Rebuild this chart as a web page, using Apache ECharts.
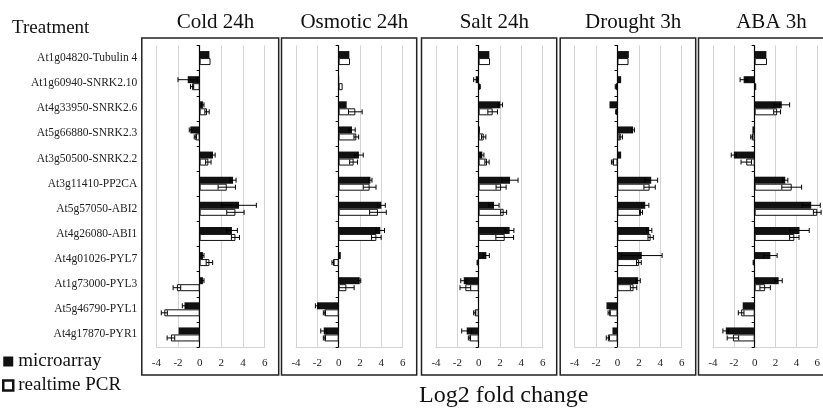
<!DOCTYPE html>
<html><head><meta charset="utf-8">
<script src="https://cdn.jsdelivr.net/npm/echarts@6/dist/echarts.min.js"></script>
<style>html,body{margin:0;padding:0;background:#fff}#c{width:823px;height:408px}</style>
</head><body><div id="c"></div>
<script>
var genes = ['At1g04820-Tubulin 4','At1g60940-SNRK2.10','At4g33950-SNRK2.6','At5g66880-SNRK2.3','At3g50500-SNRK2.2','At3g11410-PP2CA','At5g57050-ABI2','At4g26080-ABI1','At4g01026-PYL7','At1g73000-PYL3','At5g46790-PYL1','At4g17870-PYR1'];
var panelTitles = ['Cold 24h','Osmotic 24h','Salt 24h','Drought 3h','ABA 3h'];
var xTicks = [-4,-2,0,2,4,6];

var coldMicro    = [0.9,-1.1,0.3,-0.86,1.23,3.08,3.63,2.98,0.3,0.3,-1.4,-1.94];
var coldMicroErr = [0,0.9,0.1,0.1,0.2,0.28,1.6,0.5,0.1,0.1,0.2,0];
var coldPcr      = [1.0,-0.7,0.68,-0.4,0.8,2.5,3.3,3.3,0.9,-2.1,-3.26,-2.65];
var coldPcrErr   = [0,0.15,0.2,0.1,0.25,0.8,0.8,0.37,0.3,0.35,0.28,0.35];

var osmMicro    = [1.0,0.05,0.75,1.25,1.9,2.97,4.0,3.9,0.2,1.97,-2.03,-1.4];
var osmMicroErr = [0,0,0,0.3,0.4,0.15,0.37,0.4,0,0.1,0.15,0.28];
var osmPcr      = [1.06,0.37,1.56,1.65,1.4,2.9,3.68,3.53,-0.53,0.72,-1.34,-1.34];
var osmPcrErr   = [0,0,0.64,0.22,0.37,0.6,0.78,0.45,0.1,0.73,0.1,0.1];

var saltMicro    = [1.0,-0.28,2.03,0.12,0.34,2.94,1.44,2.9,0.72,-1.4,-0.05,-1.12];
var saltMicroErr = [0,0.19,0.2,0,0.15,0.75,0.47,0.4,0.28,0.28,0,0.47];
var saltPcr      = [1.06,0.1,1.31,0.47,0.78,2.1,2.34,2.44,-0.1,-1.25,-0.37,-0.87];
var saltPcrErr   = [0,0.05,0.45,0.2,0.2,0.47,0.28,0.83,0.05,0.5,0.1,0.1];

var drMicro    = [1.06,0.34,-0.75,1.46,0.34,3.15,2.59,2.96,2.27,1.93,-1.03,-0.47];
var drMicroErr = [0,0,0,0.12,0,0.6,0.34,0.25,1.9,0.2,0,0];
var drPcr      = [1.03,-0.16,-0.12,0.31,-0.47,3.0,2.2,3.1,2.0,1.5,-0.78,-0.9];
var drPcrErr   = [0,0.05,0.05,0.15,0.1,0.53,0.14,0.25,0.22,0.3,0.1,0.15];

var abaMicro    = [1.12,-1.06,2.6,-0.22,-2.0,2.93,5.42,4.3,1.5,2.3,-1.15,-2.77];
var abaMicroErr = [0,0.34,0.75,0,0.25,0.25,0.87,0.93,0.65,0.34,0,0.28];
var abaPcr      = [1.18,0.15,2.15,-0.28,-0.81,3.55,6.0,3.8,-0.1,1.0,-1.3,-2.09];
var abaPcrErr   = [0,0,0.33,0.1,0.5,0.95,0.37,0.45,0.05,0.5,0.27,0.55];

var micro = [coldMicro, osmMicro, saltMicro, drMicro, abaMicro];
var microErr = [coldMicroErr, osmMicroErr, saltMicroErr, drMicroErr, abaMicroErr];
var pcr = [coldPcr, osmPcr, saltPcr, drPcr, abaPcr];
var pcrErr = [coldPcrErr, osmPcrErr, saltPcrErr, drPcrErr, abaPcrErr];

var FONT = 'Liberation Serif';
var gridLefts = [156.3, 296, 436, 574.7, 713];
var gridWidths = [108.4, 106.7, 106.7, 107, 107];
var gridTop = 45.5, gridHeight = 301.5;
var BW = 7;

function errRender(sign) {
  return function (params, api) {
    var v = api.value(0), idx = api.value(1), e = api.value(2);
    if (!e) return null;
    var p1 = api.coord([v - e, idx]), p2 = api.coord([v + e, idx]);
    var y = p1[1] + sign * BW / 2, h = 2.5;
    var st = {stroke: '#000', lineWidth: 1};
    return {type: 'group', children: [
      {type: 'line', shape: {x1: p1[0], y1: y, x2: p2[0], y2: y}, style: st},
      {type: 'line', shape: {x1: p1[0], y1: y - h, x2: p1[0], y2: y + h}, style: st},
      {type: 'line', shape: {x1: p2[0], y1: y - h, x2: p2[0], y2: y + h}, style: st}
    ]};
  };
}

var grids = [], xAxes = [], yAxes = [], series = [], titles = [], graphics = [];
for (var i = 0; i < 5; i++) {
  grids.push({left: gridLefts[i], top: gridTop, width: gridWidths[i], height: gridHeight});
  xAxes.push({
    type: 'value', gridIndex: i, min: xTicks[0], max: xTicks[xTicks.length - 1], interval: 2,
    axisLine: {show: true, onZero: false, lineStyle: {color: '#d4d4d4', width: 1}},
    axisTick: {show: false},
    splitLine: {show: true, lineStyle: {color: '#d4d4d4', width: 1}},
    axisLabel: {fontFamily: FONT, fontSize: 11, color: '#222', margin: 11}
  });
  yAxes.push({
    type: 'category', gridIndex: i, data: genes, inverse: true,
    axisLine: {show: true, onZero: true, lineStyle: {color: '#000', width: 1.2}},
    axisTick: {show: true, length: 3, lineStyle: {color: '#000'}},
    axisLabel: {show: false}, splitLine: {show: false}
  });
  titles.push({text: panelTitles[i], left: gridLefts[i] + gridWidths[i] / 2, top: 7, textAlign: 'center',
    textStyle: {fontFamily: FONT, fontSize: 21, fontWeight: 'normal', color: '#111'}});
  graphics.push({type: 'rect', shape: {x: gridLefts[i] - 14.5, y: 38, width: gridWidths[i] + 28.5, height: 337},
    style: {fill: 'none', stroke: '#222', lineWidth: 1.5}, z: 10});
  series.push({type: 'bar', name: 'microarray', xAxisIndex: i, yAxisIndex: i, data: micro[i],
    barWidth: BW, barGap: '0%', itemStyle: {color: '#111'}, silent: true});
  series.push({type: 'bar', name: 'realtime PCR', xAxisIndex: i, yAxisIndex: i, data: pcr[i],
    barWidth: BW, barGap: '0%', itemStyle: {color: '#fff', borderColor: '#111', borderWidth: 1}, silent: true});
  series.push({type: 'custom', name: 'errM', xAxisIndex: i, yAxisIndex: i, renderItem: errRender(-1), z: 5, silent: true,
    encode: {x: 0, y: 1}, data: micro[i].map(function (v, j) { return [v, j, microErr[i][j]]; })});
  series.push({type: 'custom', name: 'errP', xAxisIndex: i, yAxisIndex: i, renderItem: errRender(1), z: 5, silent: true,
    encode: {x: 0, y: 1}, data: pcr[i].map(function (v, j) { return [v, j, pcrErr[i][j]]; })});
}
yAxes.push({
  type: 'category', gridIndex: 0, data: genes, inverse: true, position: 'left',
  axisLine: {show: false, onZero: false}, axisTick: {show: false}, splitLine: {show: false},
  axisLabel: {fontFamily: FONT, fontSize: 11.5, color: '#222', margin: 19}
});
titles.push({text: 'Treatment', left: 7, top: 14, textStyle: {fontFamily: FONT, fontSize: 19, fontWeight: 'normal', color: '#111'}});
titles.push({text: 'Log2 fold change', left: 414, top: 379, textStyle: {fontFamily: FONT, fontSize: 24, fontWeight: 'normal', color: '#111'}});

var chart = echarts.init(document.getElementById('c'));
chart.setOption({
  animation: false,
  title: titles,
  grid: grids, xAxis: xAxes, yAxis: yAxes, series: series,
  graphic: graphics,
  legend: {
    orient: 'vertical', left: 2, top: 352, padding: 0, itemWidth: 10, itemHeight: 10, itemGap: 5,
    data: [{name: 'microarray', icon: 'rect'}, {name: 'realtime PCR', icon: 'rect', itemStyle: {borderWidth: 2.5, borderColor: '#111', color: '#fff'}}],
    textStyle: {fontFamily: FONT, fontSize: 19, color: '#111'}
  }
});
</script></body></html>
